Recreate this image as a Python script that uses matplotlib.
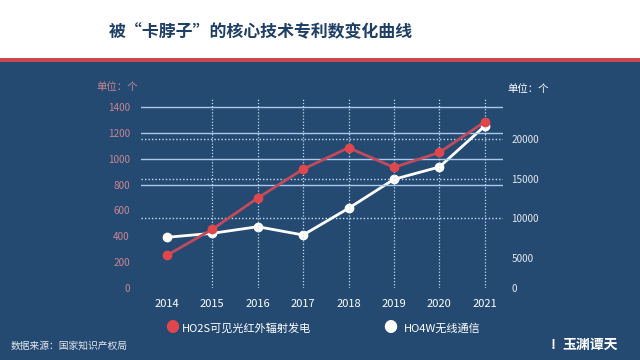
import matplotlib
matplotlib.use('Agg')
import matplotlib.pyplot as plt
from matplotlib.patches import Rectangle

plt.rcParams['font.family'] = ['Noto Sans CJK SC', 'DejaVu Sans']

years = [2014, 2015, 2016, 2017, 2018, 2019, 2020, 2021]
# HO2S 可见光红外辐射发电 (left axis)
ho2s = [253, 454, 696, 920, 1085, 933, 1049, 1286]
# HO4W 无线通信 (right axis)
ho4w = [7560, 8060, 8900, 7850, 11230, 14900, 16460, 21650]
left_grid = [800, 1000, 1200, 1400]
right_grid = [10000, 15000, 20000]
left_ticks = [0, 200, 400, 600, 800, 1000, 1200, 1400]
right_ticks = [1140, 5000, 10000, 15000, 20000]
right_labels = ['0', '5000', '10000', '15000', '20000']

bg = '#244a72'
red_line = '#c24a5c'
red_dot = '#e0474c'
pink = '#c98592'

fig = plt.figure(figsize=(6.4, 3.6), dpi=100)
fig.patch.set_facecolor(bg)

# header band
fig.add_artist(Rectangle((0, 1 - 58 / 360), 1, 58 / 360, transform=fig.transFigure,
                         facecolor='white', edgecolor='none'))
fig.add_artist(Rectangle((0, 1 - 62 / 360), 1, 4 / 360, transform=fig.transFigure,
                         facecolor='#c84a50', edgecolor='none'))
fig.text(261 / 640, 1 - 32 / 360, '被“卡脖子”的核心技术专利数变化曲线', ha='center', va='center',
         fontsize=12.2, fontweight='heavy', color='#1f3f66')

ax = fig.add_axes([141 / 640, 72 / 360, 362 / 640, 190 / 360])
ax.set_facecolor('none')
ax2 = ax.twinx()

ax.set_xlim(2013.43, 2021.4)
ax.set_ylim(0, 1470)
ax2.set_ylim(1140, 25190)

for v in left_grid:
    ax.axhline(v, color='#a9c8ea', lw=1.0, zorder=1)
for v in right_grid:
    ax2.axhline(v, color='#c9dcf0', lw=1.0, ls=(0, (1, 1.5)), zorder=1)
for yr in years[1:]:
    ax.axvline(yr, color='#c9dcf0', lw=0.9, ls=(0, (1, 1.5)), zorder=1)

ax2.plot(years, ho4w, color='white', lw=2, marker='o', ms=6, zorder=3)
ax.plot(years, ho2s, color=red_line, lw=2, marker='o', ms=6, mfc=red_dot, mec=red_dot, zorder=4)
ax.set_zorder(ax2.get_zorder() + 1)

for a in (ax, ax2):
    for s in a.spines.values():
        s.set_visible(False)
    a.tick_params(length=0)

ax.set_xticks(years)
ax.set_xticklabels([str(y) for y in years], color='white', fontsize=8)
ax.tick_params(axis='x', pad=8)
ax.set_yticks(left_ticks)
ax.set_yticklabels([str(v) for v in left_ticks], color=pink, fontsize=7.2)
ax.tick_params(axis='y', pad=8)
ax2.set_yticks(right_ticks)
ax2.set_yticklabels(right_labels, color='#e4e8ee', fontsize=7.2)
ax2.tick_params(axis='y', pad=6)

fig.text(117 / 640, 1 - 87 / 360, '单位：个', ha='center', va='center', fontsize=7.5, color=pink)
fig.text(528 / 640, 1 - 89 / 360, '单位：个', ha='center', va='center', fontsize=7.5, color='white')

# legend
fig.text(172 / 640, 1 - 328 / 360, '●', ha='center', va='center', fontsize=10, color=red_dot)
fig.text(182 / 640, 1 - 328 / 360, 'HO2S可见光红外辐射发电', ha='left', va='center', fontsize=8, color='white')
fig.text(390 / 640, 1 - 328 / 360, '●', ha='center', va='center', fontsize=10, color='white')
fig.text(404 / 640, 1 - 328 / 360, 'HO4W无线通信', ha='left', va='center', fontsize=8, color='white')

fig.text(11 / 640, 1 - 346 / 360, '数据来源：国家知识产权局', ha='left', va='center', fontsize=7, color='#e4e8ee')
fig.text(553 / 640, 1 - 345 / 360, '!', ha='center', va='center', fontsize=10, fontweight='bold', color='white')
fig.text(590 / 640, 1 - 345 / 360, '玉渊谭天', ha='center', va='center', fontsize=10, fontweight='heavy',
         color='white', fontstyle='italic')

fig.savefig('out.png', dpi=100, facecolor=bg)
